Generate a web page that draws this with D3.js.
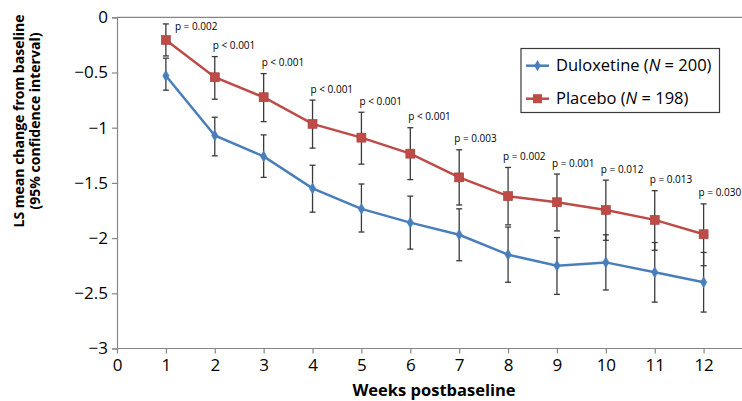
<!DOCTYPE html>
<html><head><meta charset="utf-8">
<script src="https://cdn.jsdelivr.net/npm/d3@7"></script>
<style>body{margin:0;background:#fff}svg{display:block}text{font-family:"Open Sans","Liberation Sans",sans-serif}</style>
</head><body>
<svg id="c" width="742" height="401"></svg>
<script>
const weeks = [1,2,3,4,5,6,7,8,9,10,11,12];
const duloxMean  = [-0.53,-1.07,-1.26,-1.55,-1.735,-1.86,-1.97,-2.15,-2.25,-2.22,-2.31,-2.40];
const duloxLower = [-0.66,-1.255,-1.45,-1.765,-1.945,-2.10,-2.205,-2.40,-2.51,-2.47,-2.58,-2.67];
const duloxUpper = [-0.37,-0.905,-1.065,-1.34,-1.51,-1.62,-1.735,-1.90,-1.995,-1.97,-2.04,-2.13];
const placMean   = [-0.205,-0.543,-0.724,-0.965,-1.09,-1.235,-1.45,-1.62,-1.675,-1.745,-1.835,-1.965];
const placLower  = [-0.35,-0.742,-0.945,-1.185,-1.33,-1.47,-1.70,-1.88,-1.935,-2.02,-2.11,-2.25];
const placUpper  = [-0.06,-0.356,-0.51,-0.75,-0.86,-1.0,-1.20,-1.36,-1.42,-1.475,-1.57,-1.69];
const pLabels = ["p = 0.002","p < 0.001","p < 0.001","p < 0.001","p < 0.001","p < 0.001","p = 0.003","p = 0.002","p = 0.001","p = 0.012","p = 0.013","p = 0.030"];
const xTicks = [0,1,2,3,4,5,6,7,8,9,10,11,12];
const yTicks = [0,-0.5,-1,-1.5,-2,-2.5,-3];
const seriesNames = ["Duloxetine","Placebo"];
const seriesN = [200,198];

const svg = d3.select("#c");
const x = d3.scaleLinear().domain([0,13]).range([117,752.5]);
const y = d3.scaleLinear().domain([0,-3]).range([17.3,348.5]);
const axisColor = "#868686";
const fmt = v => v===0 ? "0" : String(v).replace("-","\u2212");

// top line at y=0
svg.append("line").attr("x1",x(0)).attr("x2",742).attr("y1",y(0)).attr("y2",y(0)).attr("stroke",axisColor).attr("stroke-width",1.2);

// left axis
const ya = svg.append("g").attr("transform",`translate(${x(0)},0)`)
  .call(d3.axisLeft(y).tickValues(yTicks).tickSize(5).tickPadding(4).tickFormat(fmt));
ya.select(".domain").attr("stroke",axisColor).attr("stroke-width",1.2);
ya.selectAll(".tick line").attr("stroke",axisColor).attr("stroke-width",1.2);
ya.selectAll("text").attr("font-size",17).attr("fill","#000");

// bottom axis
const xa = svg.append("g").attr("transform",`translate(0,${y(-3)})`)
  .call(d3.axisBottom(x).tickValues(xTicks).tickSize(5).tickPadding(5).tickFormat(d3.format("d")));
xa.select(".domain").attr("d",`M${x(0)},0H742`).attr("stroke",axisColor).attr("stroke-width",1.2);
xa.selectAll(".tick line").attr("stroke",axisColor).attr("stroke-width",1.2);
xa.selectAll("text").attr("font-size",17).attr("fill","#000");

// axis titles
svg.append("text").attr("x",434).attr("y",396).attr("text-anchor","middle")
  .attr("font-size",16.5).attr("font-weight","bold").text("Weeks postbaseline");
const yt = svg.append("text").attr("transform",`translate(24,121) rotate(-90)`).attr("text-anchor","middle")
  .attr("font-size",14).attr("font-weight","bold");
yt.append("tspan").attr("x",0).attr("y",0).text("LS mean change from baseline");
yt.append("tspan").attr("x",0).attr("y",15.5).text("(95% confidence interval)");

const blue = "#4a7ebb", red = "#be4b48", errColor = "#3a3a3a";

function errorBars(lo, hi){
  const g = svg.append("g").attr("stroke",errColor).attr("stroke-width",1.3).attr("fill","none");
  weeks.forEach((w,i)=>{
    g.append("line").attr("x1",x(w)).attr("x2",x(w)).attr("y1",y(lo[i])).attr("y2",y(hi[i]));
    g.append("line").attr("x1",x(w)-3).attr("x2",x(w)+3).attr("y1",y(lo[i])).attr("y2",y(lo[i]));
    g.append("line").attr("x1",x(w)-3).attr("x2",x(w)+3).attr("y1",y(hi[i])).attr("y2",y(hi[i]));
  });
}
errorBars(duloxLower,duloxUpper);
errorBars(placLower,placUpper);

const line = d3.line().x((d,i)=>x(weeks[i])).y(d=>y(d));
svg.append("path").datum(duloxMean).attr("d",line).attr("fill","none").attr("stroke",blue).attr("stroke-width",2.5);
svg.append("path").datum(placMean).attr("d",line).attr("fill","none").attr("stroke",red).attr("stroke-width",2.5);

const diamond = d3.symbol().type(d3.symbolDiamond).size(36);
svg.append("g").selectAll("path").data(duloxMean).join("path")
  .attr("transform",(d,i)=>`translate(${x(weeks[i])},${y(d)})`).attr("d",diamond).attr("fill",blue).attr("stroke",blue).attr("stroke-width",0.5);
svg.append("g").selectAll("rect").data(placMean).join("rect")
  .attr("x",(d,i)=>x(weeks[i])-4.5).attr("y",d=>y(d)-4.5).attr("width",9).attr("height",9).attr("fill",red).attr("stroke","#a83c39").attr("stroke-width",0.6);

// p-value annotations
svg.append("g").selectAll("text").data(pLabels).join("text")
  .each(function(d,i){
    let ty = y(placUpper[i]) - 11;
    let tx = x(weeks[i]) - 2 - (i>5 ? 3 : 0);
    if (ty < 26) { ty = 26; tx = x(weeks[i]) + 9; }
    d3.select(this).attr("x",tx).attr("y",ty).attr("dy","0.35em");
  })
  .attr("font-size",10).attr("fill","#000").text(d=>d);

// legend
const lg = svg.append("g");
lg.append("rect").attr("x",521).attr("y",48.5).attr("width",198.5).attr("height",64).attr("fill","#fff").attr("stroke","#3a3a3a").attr("stroke-width",1.2);
const ly = [65.7,98.7];
[0,1].forEach(k=>{
  const col = k===0?blue:red;
  lg.append("line").attr("x1",526).attr("x2",549).attr("y1",ly[k]).attr("y2",ly[k]).attr("stroke",col).attr("stroke-width",2.5);
  if(k===0) lg.append("path").attr("transform",`translate(537.5,${ly[k]})`).attr("d",diamond).attr("fill",blue);
  else lg.append("rect").attr("x",533).attr("y",ly[k]-4.5).attr("width",9).attr("height",9).attr("fill",red);
  const t = lg.append("text").attr("x",556).attr("y",ly[k]).attr("dy","0.35em").attr("font-size",16.5).attr("fill","#000");
  t.append("tspan").text(seriesNames[k]+" (");
  t.append("tspan").attr("font-style","italic").text("N");
  t.append("tspan").text(" = "+seriesN[k]+")");
});
</script>
</body></html>
